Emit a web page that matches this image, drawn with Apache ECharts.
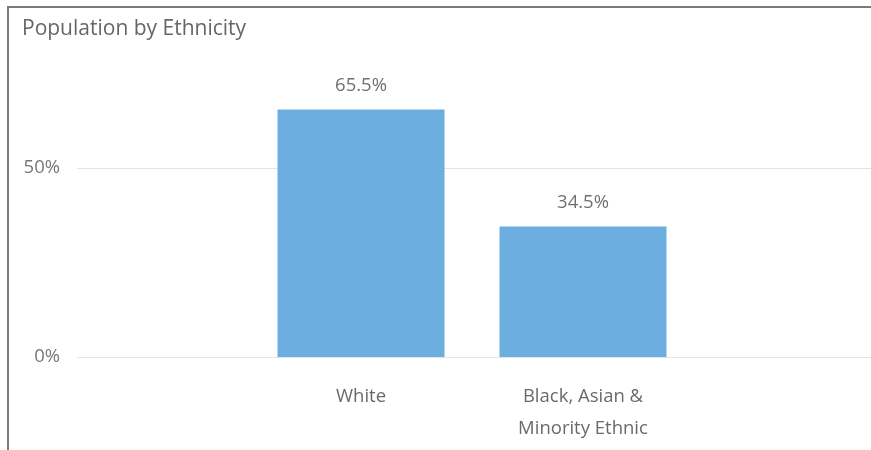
<!DOCTYPE html>
<html>
<head>
<meta charset="utf-8">
<script src="https://cdn.jsdelivr.net/npm/echarts@6/dist/echarts.min.js"></script>
<style>
html,body{margin:0;padding:0;background:#fff;}
#c{width:871px;height:450px;}
</style>
</head>
<body>
<div id="c"></div>
<script>
const title = 'Population by Ethnicity';
const categories = ['White', 'Black, Asian &\nMinority Ethnic'];
const values = [65.5, 34.5];
const yTicks = [0, 50];
const yMax = 70;

const FONT = 'Open Sans';
const chart = echarts.init(document.getElementById('c'), null, {renderer: 'canvas'});
chart.setOption({
  backgroundColor: '#ffffff',
  animation: false,
  title: {
    text: title, left: 17, top: 14,
    textStyle: {fontFamily: FONT, fontSize: 21, fontWeight: 'normal', color: '#666666'}
  },
  graphic: [
    {type: 'line', shape: {x1: 8, y1: 7, x2: 871, y2: 7}, style: {stroke: '#7a7a7a', lineWidth: 2}},
    {type: 'line', shape: {x1: 8, y1: 6, x2: 8, y2: 450}, style: {stroke: '#7a7a7a', lineWidth: 2}}
  ],
  grid: [
    {left: 77, right: 0, top: 92.4, bottom: 93},
    {left: 250, width: 444, top: 92.4, bottom: 93}
  ],
  xAxis: [
    {type: 'value', gridIndex: 0, show: false, min: 0, max: 1},
    {type: 'category', gridIndex: 1, data: categories,
     axisLine: {show: false}, axisTick: {show: false},
     axisLabel: {margin: 24, fontFamily: FONT, fontSize: 18.5, color: '#6a6a6a', lineHeight: 32}}
  ],
  yAxis: [
    {type: 'value', gridIndex: 0, min: yTicks[0], max: yMax, interval: yTicks[1] - yTicks[0],
     axisLine: {show: false}, axisTick: {show: false},
     axisLabel: {formatter: '{value}%', margin: 17, fontFamily: FONT, fontSize: 18.5, color: '#777777', showMaxLabel: false},
     splitLine: {lineStyle: {color: ['#e4e4e4', '#e4e4e4', 'rgba(0,0,0,0)'], width: 1}}},
    {type: 'value', gridIndex: 1, min: yTicks[0], max: yMax, show: false, splitLine: {show: false}}
  ],
  series: [{
    type: 'bar', xAxisIndex: 1, yAxisIndex: 1,
    data: values, barWidth: 167,
    itemStyle: {color: '#6caee0'},
    label: {show: true, position: 'top', distance: 14, formatter: '{c}%',
            fontFamily: FONT, fontSize: 18.5, color: '#707070'}
  }]
});
</script>
</body>
</html>
